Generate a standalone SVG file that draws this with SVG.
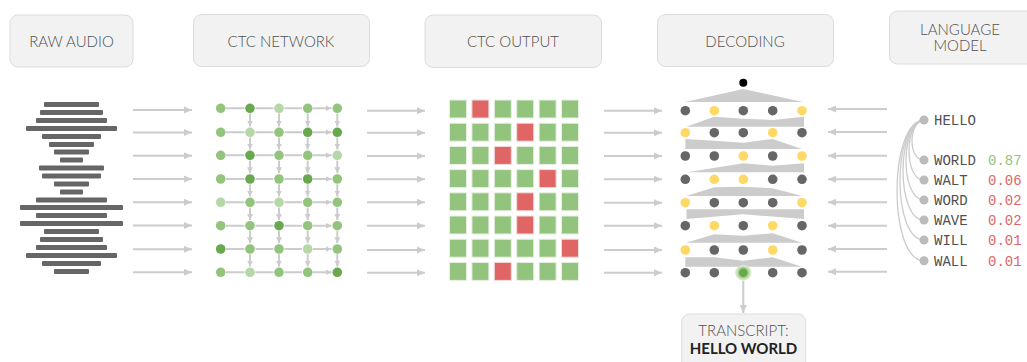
<svg xmlns="http://www.w3.org/2000/svg" width="1027" height="362" viewBox="0 0 1027 362">
  <style>
    .box { fill: #f2f2f2; stroke: #dcdcdc; stroke-width: 1; }
    .title { font-family: Lato, "Liberation Sans", sans-serif; font-weight: 300; font-size: 15px; fill: #505050; text-anchor: middle; }
    .bar { fill: #666666; }
    .flow { stroke: #cccccc; stroke-width: 2; fill: none; }
    .edge { stroke: #cccccc; stroke-width: 2; fill: none; }
    .n-l { fill: #b6d7a8; }
    .n-m { fill: #93c47d; }
    .n-d { fill: #6aa84f; }
    .sq-g { fill: #93c47d; stroke: #e8f0e4; stroke-width: 1; }
    .sq-r { fill: #e06666; stroke: #f2dcdc; stroke-width: 1; }
    .beam { fill: #cccccc; }
    .d-g { fill: #666666; }
    .d-y { fill: #ffd966; }
    .lm-link { stroke: #cccccc; stroke-width: 1.3; fill: none; }
    .lm-node { fill: #bbbbbb; }
    .word { font-family: "Liberation Mono", "DejaVu Sans Mono", monospace; font-size: 14px; fill: #505050; }
    .p-good { font-family: "Liberation Mono", "DejaVu Sans Mono", monospace; font-size: 14px; fill: #93c47d; }
    .p-bad { font-family: "Liberation Mono", "DejaVu Sans Mono", monospace; font-size: 14px; fill: #e06666; }
  </style>
  <defs>
    <marker id="head" markerUnits="userSpaceOnUse" markerWidth="9" markerHeight="8" refX="8" refY="4" orient="auto">
      <path d="M0,0.5 L8,4 L0,7.5 z" fill="#cccccc"/>
    </marker>
    <marker id="head-s" markerUnits="userSpaceOnUse" markerWidth="7" markerHeight="7" refX="6" refY="3.5" orient="auto">
      <path d="M0,0.5 L6,3.5 L0,6.5 z" fill="#cccccc"/>
    </marker>
  </defs>

  <rect width="1027" height="362" fill="#ffffff"/>

  <!-- stage headers -->
  <g id="hdr-raw-audio">
    <rect class="box" x="10" y="15" width="123" height="52" rx="8"/>
    <text class="title" x="71.5" y="47">RAW AUDIO</text>
  </g>
  <g id="hdr-ctc-network">
    <rect class="box" x="193.5" y="14.5" width="176" height="52" rx="8"/>
    <text class="title" x="281" y="47">CTC NETWORK</text>
  </g>
  <g id="hdr-ctc-output">
    <rect class="box" x="425" y="15" width="176.5" height="52.5" rx="8"/>
    <text class="title" x="513" y="47">CTC OUTPUT</text>
  </g>
  <g id="hdr-decoding">
    <rect class="box" x="657.5" y="14.5" width="176" height="52" rx="8"/>
    <text class="title" x="745" y="47">DECODING</text>
  </g>
  <g id="hdr-language-model">
    <rect class="box" x="889.5" y="11" width="150" height="53" rx="8"/>
    <text class="title" x="960" y="35">LANGUAGE</text>
    <text class="title" x="960" y="51">MODEL</text>
  </g>

  <!-- waveform -->
  <g id="raw-audio">
    <rect class="bar" x="44" y="102" width="55" height="5" rx="1"/>
    <rect class="bar" x="40" y="110" width="63" height="5" rx="1"/>
    <rect class="bar" x="36" y="118" width="71" height="5" rx="1"/>
    <rect class="bar" x="26" y="126" width="91" height="5" rx="1"/>
    <rect class="bar" x="42" y="134" width="59" height="5" rx="1"/>
    <rect class="bar" x="49" y="142" width="45" height="5" rx="1"/>
    <rect class="bar" x="54" y="149.5" width="35" height="5" rx="1"/>
    <rect class="bar" x="60" y="157.5" width="23" height="5" rx="1"/>
    <rect class="bar" x="39" y="165.5" width="65" height="5" rx="1"/>
    <rect class="bar" x="42" y="173.5" width="59" height="5" rx="1"/>
    <rect class="bar" x="54" y="181.5" width="35" height="5" rx="1"/>
    <rect class="bar" x="60" y="189.5" width="23" height="5" rx="1"/>
    <rect class="bar" x="36" y="197.5" width="71" height="5" rx="1"/>
    <rect class="bar" x="20" y="205" width="103" height="5" rx="1"/>
    <rect class="bar" x="36" y="213" width="71" height="5" rx="1"/>
    <rect class="bar" x="20" y="221" width="103" height="5" rx="1"/>
    <rect class="bar" x="44" y="229" width="55" height="5" rx="1"/>
    <rect class="bar" x="40" y="237" width="63" height="5" rx="1"/>
    <rect class="bar" x="36" y="245" width="71" height="5" rx="1"/>
    <rect class="bar" x="26" y="253" width="91" height="5" rx="1"/>
    <rect class="bar" x="42" y="261" width="59" height="5" rx="1"/>
    <rect class="bar" x="54" y="269" width="35" height="5" rx="1"/>
  </g>

  <!-- connectors between stages -->
  <g id="connectors">
    <path class="flow" marker-end="url(#head)" d="M133,110 H192"/>
    <path class="flow" marker-end="url(#head)" d="M133,132.5 H192"/>
    <path class="flow" marker-end="url(#head)" d="M133,155.7 H192"/>
    <path class="flow" marker-end="url(#head)" d="M133,179 H192"/>
    <path class="flow" marker-end="url(#head)" d="M133,202.3 H192"/>
    <path class="flow" marker-end="url(#head)" d="M133,225.5 H192"/>
    <path class="flow" marker-end="url(#head)" d="M133,249.3 H192"/>
    <path class="flow" marker-end="url(#head)" d="M133,272.3 H192"/>

    <path class="flow" marker-end="url(#head)" d="M367,110.7 H425"/>
    <path class="flow" marker-end="url(#head)" d="M367,132.7 H425"/>
    <path class="flow" marker-end="url(#head)" d="M367,156 H425"/>
    <path class="flow" marker-end="url(#head)" d="M367,179.3 H425"/>
    <path class="flow" marker-end="url(#head)" d="M367,202.3 H425"/>
    <path class="flow" marker-end="url(#head)" d="M367,225.7 H425"/>
    <path class="flow" marker-end="url(#head)" d="M367,250 H425"/>
    <path class="flow" marker-end="url(#head)" d="M367,272.7 H425"/>

    <path class="flow" marker-end="url(#head)" d="M604,110.7 H662"/>
    <path class="flow" marker-end="url(#head)" d="M604,132.7 H662"/>
    <path class="flow" marker-end="url(#head)" d="M604,156 H662"/>
    <path class="flow" marker-end="url(#head)" d="M604,179.3 H662"/>
    <path class="flow" marker-end="url(#head)" d="M604,202.7 H662"/>
    <path class="flow" marker-end="url(#head)" d="M604,225.7 H662"/>
    <path class="flow" marker-end="url(#head)" d="M604,250 H662"/>
    <path class="flow" marker-end="url(#head)" d="M604,272.7 H662"/>

    <path class="flow" marker-end="url(#head)" d="M887,109 H828"/>
    <path class="flow" marker-end="url(#head)" d="M887,132 H828"/>
    <path class="flow" marker-end="url(#head)" d="M887,155.7 H828"/>
    <path class="flow" marker-end="url(#head)" d="M887,179.3 H828"/>
    <path class="flow" marker-end="url(#head)" d="M887,202.3 H828"/>
    <path class="flow" marker-end="url(#head)" d="M887,225.7 H828"/>
    <path class="flow" marker-end="url(#head)" d="M887,249 H828"/>
    <path class="flow" marker-end="url(#head)" d="M887,271.7 H828"/>

    <path class="flow" marker-end="url(#head)" d="M743.3,281 V313"/>
  </g>

  <!-- CTC network: horizontal and vertical links, then nodes -->
  <g id="ctc-network">
    <g id="ctc-network-links">
      <path class="edge" marker-end="url(#head-s)" d="M226,108.3 H244.5 M255.5,108.3 H273.5 M284.5,108.3 H302 M313,108.3 H331.5"/>
      <path class="edge" marker-end="url(#head-s)" d="M226,132.3 H244.5 M255.5,132.3 H273.5 M284.5,132.3 H302 M313,132.3 H331.5"/>
      <path class="edge" marker-end="url(#head-s)" d="M226,155.3 H244.5 M255.5,155.3 H273.5 M284.5,155.3 H302 M313,155.3 H331.5"/>
      <path class="edge" marker-end="url(#head-s)" d="M226,179 H244.5 M255.5,179 H273.5 M284.5,179 H302 M313,179 H331.5"/>
      <path class="edge" marker-end="url(#head-s)" d="M226,202.3 H244.5 M255.5,202.3 H273.5 M284.5,202.3 H302 M313,202.3 H331.5"/>
      <path class="edge" marker-end="url(#head-s)" d="M226,225.7 H244.5 M255.5,225.7 H273.5 M284.5,225.7 H302 M313,225.7 H331.5"/>
      <path class="edge" marker-end="url(#head-s)" d="M226,249 H244.5 M255.5,249 H273.5 M284.5,249 H302 M313,249 H331.5"/>
      <path class="edge" marker-end="url(#head-s)" d="M226,272.3 H244.5 M255.5,272.3 H273.5 M284.5,272.3 H302 M313,272.3 H331.5"/>
    </g>
    <g id="ctc-network-steps">
      <path class="edge" marker-end="url(#head-s)" d="M250,113.5 V126.5"/>
      <path class="edge" marker-end="url(#head-s)" d="M250,137.5 V149.5"/>
      <path class="edge" marker-end="url(#head-s)" d="M250,160.5 V173.2"/>
      <path class="edge" marker-end="url(#head-s)" d="M250,184.2 V196.5"/>
      <path class="edge" marker-end="url(#head-s)" d="M250,207.5 V219.9"/>
      <path class="edge" marker-end="url(#head-s)" d="M250,230.9 V243.2"/>
      <path class="edge" marker-end="url(#head-s)" d="M250,254.2 V266.5"/>
      <path class="edge" marker-end="url(#head-s)" d="M279,113.5 V126.5"/>
      <path class="edge" marker-end="url(#head-s)" d="M279,137.5 V149.5"/>
      <path class="edge" marker-end="url(#head-s)" d="M279,160.5 V173.2"/>
      <path class="edge" marker-end="url(#head-s)" d="M279,184.2 V196.5"/>
      <path class="edge" marker-end="url(#head-s)" d="M279,207.5 V219.9"/>
      <path class="edge" marker-end="url(#head-s)" d="M279,230.9 V243.2"/>
      <path class="edge" marker-end="url(#head-s)" d="M279,254.2 V266.5"/>
      <path class="edge" marker-end="url(#head-s)" d="M307.7,113.5 V126.5"/>
      <path class="edge" marker-end="url(#head-s)" d="M307.7,137.5 V149.5"/>
      <path class="edge" marker-end="url(#head-s)" d="M307.7,160.5 V173.2"/>
      <path class="edge" marker-end="url(#head-s)" d="M307.7,184.2 V196.5"/>
      <path class="edge" marker-end="url(#head-s)" d="M307.7,207.5 V219.9"/>
      <path class="edge" marker-end="url(#head-s)" d="M307.7,230.9 V243.2"/>
      <path class="edge" marker-end="url(#head-s)" d="M307.7,254.2 V266.5"/>
      <path class="edge" marker-end="url(#head-s)" d="M337.3,113.5 V126.5"/>
      <path class="edge" marker-end="url(#head-s)" d="M337.3,137.5 V149.5"/>
      <path class="edge" marker-end="url(#head-s)" d="M337.3,160.5 V173.2"/>
      <path class="edge" marker-end="url(#head-s)" d="M337.3,184.2 V196.5"/>
      <path class="edge" marker-end="url(#head-s)" d="M337.3,207.5 V219.9"/>
      <path class="edge" marker-end="url(#head-s)" d="M337.3,230.9 V243.2"/>
      <path class="edge" marker-end="url(#head-s)" d="M337.3,254.2 V266.5"/>
    </g>
    <g id="ctc-network-nodes">
      <circle class="n-m" cx="220.7" cy="108.3" r="4.8"/>
      <circle class="n-d" cx="250" cy="108.3" r="4.8"/>
      <circle class="n-l" cx="279" cy="108.3" r="4.8"/>
      <circle class="n-m" cx="307.7" cy="108.3" r="4.8"/>
      <circle class="n-m" cx="337.3" cy="108.3" r="4.8"/>

      <circle class="n-m" cx="220.7" cy="132.3" r="4.8"/>
      <circle class="n-l" cx="250" cy="132.3" r="4.8"/>
      <circle class="n-m" cx="279" cy="132.3" r="4.8"/>
      <circle class="n-d" cx="307.7" cy="132.3" r="4.8"/>
      <circle class="n-d" cx="337.3" cy="132.3" r="4.8"/>

      <circle class="n-m" cx="220.7" cy="155.3" r="4.8"/>
      <circle class="n-d" cx="250" cy="155.3" r="4.8"/>
      <circle class="n-m" cx="279" cy="155.3" r="4.8"/>
      <circle class="n-m" cx="307.7" cy="155.3" r="4.8"/>
      <circle class="n-l" cx="337.3" cy="155.3" r="4.8"/>

      <circle class="n-m" cx="220.7" cy="179" r="4.8"/>
      <circle class="n-d" cx="250" cy="179" r="4.8"/>
      <circle class="n-m" cx="279" cy="179" r="4.8"/>
      <circle class="n-d" cx="307.7" cy="179" r="4.8"/>
      <circle class="n-m" cx="337.3" cy="179" r="4.8"/>

      <circle class="n-l" cx="220.7" cy="202.3" r="4.8"/>
      <circle class="n-m" cx="250" cy="202.3" r="4.8"/>
      <circle class="n-l" cx="279" cy="202.3" r="4.8"/>
      <circle class="n-m" cx="307.7" cy="202.3" r="4.8"/>
      <circle class="n-m" cx="337.3" cy="202.3" r="4.8"/>

      <circle class="n-m" cx="220.7" cy="225.7" r="4.8"/>
      <circle class="n-m" cx="250" cy="225.7" r="4.8"/>
      <circle class="n-d" cx="279" cy="225.7" r="4.8"/>
      <circle class="n-m" cx="307.7" cy="225.7" r="4.8"/>
      <circle class="n-m" cx="337.3" cy="225.7" r="4.8"/>

      <circle class="n-d" cx="220.7" cy="249" r="4.8"/>
      <circle class="n-m" cx="250" cy="249" r="4.8"/>
      <circle class="n-m" cx="279" cy="249" r="4.8"/>
      <circle class="n-l" cx="307.7" cy="249" r="4.8"/>
      <circle class="n-m" cx="337.3" cy="249" r="4.8"/>

      <circle class="n-m" cx="220.7" cy="272.3" r="4.8"/>
      <circle class="n-l" cx="250" cy="272.3" r="4.8"/>
      <circle class="n-m" cx="279" cy="272.3" r="4.8"/>
      <circle class="n-m" cx="307.7" cy="272.3" r="4.8"/>
      <circle class="n-d" cx="337.3" cy="272.3" r="4.8"/>
    </g>
  </g>

  <!-- CTC output: per-frame probability grid -->
  <g id="ctc-output">
    <rect class="sq-g" x="449.5" y="100" width="17" height="18"/>
    <rect class="sq-r" x="471.9" y="100" width="17" height="18"/>
    <rect class="sq-g" x="494.3" y="100" width="17" height="18"/>
    <rect class="sq-g" x="516.7" y="100" width="17" height="18"/>
    <rect class="sq-g" x="539.1" y="100" width="17" height="18"/>
    <rect class="sq-g" x="561.5" y="100" width="17" height="18"/>

    <rect class="sq-g" x="449.5" y="123.2" width="17" height="18"/>
    <rect class="sq-g" x="471.9" y="123.2" width="17" height="18"/>
    <rect class="sq-g" x="494.3" y="123.2" width="17" height="18"/>
    <rect class="sq-r" x="516.7" y="123.2" width="17" height="18"/>
    <rect class="sq-g" x="539.1" y="123.2" width="17" height="18"/>
    <rect class="sq-g" x="561.5" y="123.2" width="17" height="18"/>

    <rect class="sq-g" x="449.5" y="146.4" width="17" height="18"/>
    <rect class="sq-g" x="471.9" y="146.4" width="17" height="18"/>
    <rect class="sq-r" x="494.3" y="146.4" width="17" height="18"/>
    <rect class="sq-g" x="516.7" y="146.4" width="17" height="18"/>
    <rect class="sq-g" x="539.1" y="146.4" width="17" height="18"/>
    <rect class="sq-g" x="561.5" y="146.4" width="17" height="18"/>

    <rect class="sq-g" x="449.5" y="169.6" width="17" height="18"/>
    <rect class="sq-g" x="471.9" y="169.6" width="17" height="18"/>
    <rect class="sq-g" x="494.3" y="169.6" width="17" height="18"/>
    <rect class="sq-g" x="516.7" y="169.6" width="17" height="18"/>
    <rect class="sq-r" x="539.1" y="169.6" width="17" height="18"/>
    <rect class="sq-g" x="561.5" y="169.6" width="17" height="18"/>

    <rect class="sq-g" x="449.5" y="192.8" width="17" height="18"/>
    <rect class="sq-g" x="471.9" y="192.8" width="17" height="18"/>
    <rect class="sq-g" x="494.3" y="192.8" width="17" height="18"/>
    <rect class="sq-r" x="516.7" y="192.8" width="17" height="18"/>
    <rect class="sq-g" x="539.1" y="192.8" width="17" height="18"/>
    <rect class="sq-g" x="561.5" y="192.8" width="17" height="18"/>

    <rect class="sq-g" x="449.5" y="216" width="17" height="18"/>
    <rect class="sq-g" x="471.9" y="216" width="17" height="18"/>
    <rect class="sq-g" x="494.3" y="216" width="17" height="18"/>
    <rect class="sq-r" x="516.7" y="216" width="17" height="18"/>
    <rect class="sq-g" x="539.1" y="216" width="17" height="18"/>
    <rect class="sq-g" x="561.5" y="216" width="17" height="18"/>

    <rect class="sq-g" x="449.5" y="239.2" width="17" height="18"/>
    <rect class="sq-g" x="471.9" y="239.2" width="17" height="18"/>
    <rect class="sq-g" x="494.3" y="239.2" width="17" height="18"/>
    <rect class="sq-g" x="516.7" y="239.2" width="17" height="18"/>
    <rect class="sq-g" x="539.1" y="239.2" width="17" height="18"/>
    <rect class="sq-r" x="561.5" y="239.2" width="17" height="18"/>

    <rect class="sq-g" x="449.5" y="262.4" width="17" height="18"/>
    <rect class="sq-g" x="471.9" y="262.4" width="17" height="18"/>
    <rect class="sq-r" x="494.3" y="262.4" width="17" height="18"/>
    <rect class="sq-g" x="516.7" y="262.4" width="17" height="18"/>
    <rect class="sq-g" x="539.1" y="262.4" width="17" height="18"/>
    <rect class="sq-g" x="561.5" y="262.4" width="17" height="18"/>
  </g>

  <!-- decoding: beam bands and hypothesis nodes -->
  <g id="decoding">
    <g id="beam-bands">
      <polygon class="beam" points="743.3,89 803,102 685,102"/>
      <polygon class="beam" points="686,126.7 714.3,116.7 743.3,118.7 772.7,120 804,116.7 804,126.7"/>
      <polygon class="beam" points="685.3,139 714.3,140.7 743.3,142.7 772.7,139 802,149 685.3,149"/>
      <polygon class="beam" points="687,172.3 743.3,163.3 772.7,165.7 804,163.3 804,172.3"/>
      <polygon class="beam" points="686,196 714.3,187.3 743.3,186.7 772.7,188.3 802,196"/>
      <polygon class="beam" points="686.5,209.3 804,209.3 804,219 743.3,214.3 686.5,219"/>
      <polygon class="beam" points="686,242.7 714.3,234.3 743.3,235.7 772.7,233.3 802,242.7"/>
      <polygon class="beam" points="685.3,257.3 714.3,257.3 743.3,260.7 772.7,257.3 802,266.7 685.3,266.7"/>
    </g>
    <circle cx="743.3" cy="82.7" r="5" fill="#ffffff"/>
    <circle cx="743.3" cy="82.7" r="4" fill="#000000"/>

    <circle class="d-g" cx="685.3" cy="110.7" r="4.8"/>
    <circle class="d-y" cx="714.3" cy="110.7" r="4.8"/>
    <circle class="d-g" cx="743.3" cy="110.7" r="4.8"/>
    <circle class="d-g" cx="772.7" cy="110.7" r="4.8"/>
    <circle class="d-y" cx="802" cy="110.7" r="4.8"/>

    <circle class="d-y" cx="685.3" cy="132.7" r="4.8"/>
    <circle class="d-g" cx="714.3" cy="132.7" r="4.8"/>
    <circle class="d-g" cx="743.3" cy="132.7" r="4.8"/>
    <circle class="d-y" cx="772.7" cy="132.7" r="4.8"/>
    <circle class="d-g" cx="802" cy="132.7" r="4.8"/>

    <circle class="d-g" cx="685.3" cy="156" r="4.8"/>
    <circle class="d-g" cx="714.3" cy="156" r="4.8"/>
    <circle class="d-y" cx="743.3" cy="156" r="4.8"/>
    <circle class="d-g" cx="772.7" cy="156" r="4.8"/>
    <circle class="d-y" cx="802" cy="156" r="4.8"/>

    <circle class="d-g" cx="685.3" cy="179.3" r="4.8"/>
    <circle class="d-y" cx="714.3" cy="179.3" r="4.8"/>
    <circle class="d-y" cx="743.3" cy="179.3" r="4.8"/>
    <circle class="d-g" cx="772.7" cy="179.3" r="4.8"/>
    <circle class="d-g" cx="802" cy="179.3" r="4.8"/>

    <circle class="d-y" cx="685.3" cy="202.7" r="4.8"/>
    <circle class="d-g" cx="714.3" cy="202.7" r="4.8"/>
    <circle class="d-g" cx="743.3" cy="202.7" r="4.8"/>
    <circle class="d-g" cx="772.7" cy="202.7" r="4.8"/>
    <circle class="d-y" cx="802" cy="202.7" r="4.8"/>

    <circle class="d-g" cx="685.3" cy="225.7" r="4.8"/>
    <circle class="d-y" cx="714.3" cy="225.7" r="4.8"/>
    <circle class="d-g" cx="743.3" cy="225.7" r="4.8"/>
    <circle class="d-y" cx="772.7" cy="225.7" r="4.8"/>
    <circle class="d-g" cx="802" cy="225.7" r="4.8"/>

    <circle class="d-y" cx="685.3" cy="250" r="4.8"/>
    <circle class="d-g" cx="714.3" cy="250" r="4.8"/>
    <circle class="d-g" cx="743.3" cy="250" r="4.8"/>
    <circle class="d-y" cx="772.7" cy="250" r="4.8"/>
    <circle class="d-g" cx="802" cy="250" r="4.8"/>

    <circle class="d-g" cx="685.3" cy="272.7" r="4.8"/>
    <circle class="d-g" cx="714.3" cy="272.7" r="4.8"/>
    <circle cx="743.3" cy="272.7" r="8" fill="#d3e9c8"/>
    <circle cx="743.3" cy="272.7" r="6" fill="#a8d090"/>
    <circle cx="743.3" cy="272.7" r="4.3" fill="#6aa84f"/>
    <circle class="d-g" cx="772.7" cy="272.7" r="4.8"/>
    <circle class="d-g" cx="802" cy="272.7" r="4.8"/>
  </g>

  <!-- language model: prefix tree from HELLO to candidate next words -->
  <g id="language-model">
    <g id="lm-links">
      <path class="lm-link" d="M924,120 C908,122 908,160 924,160"/>
      <path class="lm-link" d="M924,120 C904,122 904,180 924,180"/>
      <path class="lm-link" d="M924,120 C900,122 900,200 924,200"/>
      <path class="lm-link" d="M924,120 C896,122 896,220 924,220"/>
      <path class="lm-link" d="M924,120 C892,122 892,240 924,240"/>
      <path class="lm-link" d="M924,120 C888,122 888,260.7 924,260.7"/>
    </g>
    <g id="lm-hello">
      <circle class="lm-node" cx="924" cy="120" r="4.5"/>
      <text class="word" x="934" y="125">HELLO</text>
    </g>
    <g id="lm-world">
      <circle class="lm-node" cx="924" cy="160" r="4.5"/>
      <text class="word" x="934" y="165">WORLD</text>
      <text class="p-good" x="988" y="165">0.87</text>
    </g>
    <g id="lm-walt">
      <circle class="lm-node" cx="924" cy="180" r="4.5"/>
      <text class="word" x="934" y="185">WALT</text>
      <text class="p-bad" x="988" y="185">0.06</text>
    </g>
    <g id="lm-word">
      <circle class="lm-node" cx="924" cy="200" r="4.5"/>
      <text class="word" x="934" y="205">WORD</text>
      <text class="p-bad" x="988" y="205">0.02</text>
    </g>
    <g id="lm-wave">
      <circle class="lm-node" cx="924" cy="220" r="4.5"/>
      <text class="word" x="934" y="225">WAVE</text>
      <text class="p-bad" x="988" y="225">0.02</text>
    </g>
    <g id="lm-will">
      <circle class="lm-node" cx="924" cy="240" r="4.5"/>
      <text class="word" x="934" y="245">WILL</text>
      <text class="p-bad" x="988" y="245">0.01</text>
    </g>
    <g id="lm-wall">
      <circle class="lm-node" cx="924" cy="260.7" r="4.5"/>
      <text class="word" x="934" y="265.7">WALL</text>
      <text class="p-bad" x="988" y="265.7">0.01</text>
    </g>
  </g>

  <!-- final transcript -->
  <g id="transcript">
    <rect class="box" x="681.7" y="314" width="124" height="62" rx="8"/>
    <text class="title" x="743.5" y="336">TRANSCRIPT:</text>
    <text x="743.5" y="354" text-anchor="middle" font-family="Lato, 'Liberation Sans', sans-serif" font-weight="700" font-size="15" fill="#222222">HELLO WORLD</text>
  </g>
</svg>
